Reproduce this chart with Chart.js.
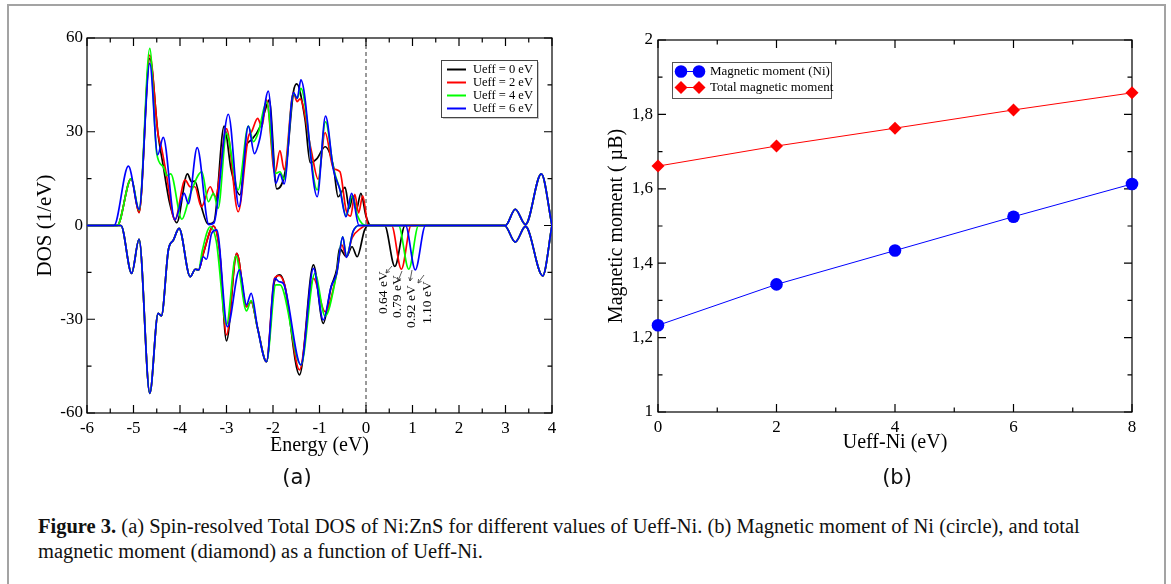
<!DOCTYPE html>
<html lang="en">
<head>
<meta charset="UTF-8">
<title>Figure 3 - Ni:ZnS DOS and magnetic moment</title>
<script src="https://cdn.jsdelivr.net/npm/chart.js"></script>
<style>
  html, body { margin: 0; padding: 0; background: #fff; width: 1171px; height: 584px; overflow: hidden; }
  .frame { position: absolute; left: 7px; top: 4px; width: 1155px; height: 620px; border: 2px solid #a3a3a3; border-bottom: none; }
  canvas { position: absolute; }
  #dos { left: 8px; top: 5px; }
  #mom { left: 592px; top: 5px; }
  .tag { position: absolute; top: 464px; width: 60px; text-align: center; font: 21px 'DejaVu Sans', sans-serif; line-height: 26px; color: #111; }
  .caption { position: absolute; left: 38px; top: 514px; font: 20.5px 'Liberation Serif', serif; line-height: 25px; color: #111; white-space: nowrap; }
</style>
</head>
<body>
<div class="frame"></div>
<canvas id="dos" width="582" height="480"></canvas>
<canvas id="mom" width="571" height="480"></canvas>
<div class="tag" style="left:267px">(a)</div>
<div class="tag" style="left:867px">(b)</div>
<div class="caption"><b>Figure 3.</b> (a) Spin-resolved Total DOS of Ni:ZnS for different values of Ueff-Ni. (b) Magnetic moment of Ni (circle), and total<br>magnetic moment (diamond) as a function of Ueff-Ni.</div>

<script>
// ---- panel (a): spin-resolved DOS, points are [energy (eV), DOS (1/eV)] ----
const ueffLabels = ['Ueff = 0 eV', 'Ueff = 2 eV', 'Ueff = 4 eV', 'Ueff = 6 eV'];
const ueffColors = ['#000000', '#ff0000', '#00ff00', '#0000ff'];
const gapEnergies = [0.64, 0.79, 0.92, 1.10];

// conduction band features, same for every Ueff
const cbUp = [[3.0, 0], [3.21, 5.2], [3.43, 0.3], [3.77, 16.5], [4.0, 0]];
const cbDn = [[2.98, 0], [3.21, -5.3], [3.43, -0.3], [3.80, -16.1], [4.0, 0]];
// deep valence part of spin-down, same for every Ueff
const dnLow = [[-6, 0], [-5.27, 0], [-5.04, -15.3], [-4.88, -4.4], [-4.65, -53.7], [-4.47, -28.1], [-4.40, -28.9],
  [-4.25, -7.8], [-4.14, -4.6], [-4.02, -0.9], [-3.78, -16.4], [-3.67, -14], [-3.60, -14.2]];

const up0 = [[-6, 0], [-5.35, 0], [-5.05, 15], [-4.88, 4.2], [-4.65, 53.5], [-4.47, 29], [-4.36, 19], [-4.22, 7],
  [-4.07, 0.9], [-3.84, 16.5], [-3.75, 14], [-3.68, 14.2], [-3.54, 6], [-3.40, 0.5], [-3.27, 1.2], [-3.05, 31.8],
  [-2.90, 17.8], [-2.71, 9.8], [-2.58, 25.2], [-2.46, 27.4], [-2.28, 31.6], [-2.14, 38.2], [-2.08, 40.2],
  [-1.92, 11.7], [-1.72, 18.8], [-1.56, 42.8], [-1.49, 45.3], [-1.31, 33.8], [-1.20, 20.1], [-1.05, 21.5],
  [-0.88, 25.2], [-0.70, 18.8], [-0.60, 9.2], [-0.45, 12.2], [-0.36, 5.5], [-0.28, 9.5], [-0.21, 5],
  [-0.11, 10.3], [0.0, 3], [0.1, 0], ...cbUp];
const up2 = [[-6, 0], [-5.35, 0], [-5.05, 15], [-4.88, 4.1], [-4.65, 54.5], [-4.47, 29], [-4.40, 25], [-4.30, 17],
  [-4.11, 1.8], [-3.89, 14.6], [-3.78, 12.4], [-3.68, 12.4], [-3.54, 6], [-3.35, 12.4], [-3.24, 9.2], [-3.00, 31],
  [-2.75, 4.4], [-2.53, 28.4], [-2.46, 30], [-2.33, 34.3], [-2.24, 31.6], [-2.14, 40.2], [-1.96, 16.7],
  [-1.85, 24], [-1.76, 17.8], [-1.56, 42.5], [-1.48, 39.6], [-1.42, 40.5], [-1.18, 24.2], [-1.03, 14.8],
  [-0.88, 29.7], [-0.70, 18.3], [-0.56, 17.2], [-0.43, 5], [-0.33, 3], [-0.24, 10], [-0.16, 4], [-0.07, 9.5],
  [0.05, 0], ...cbUp];
const up4 = [[-6, 0], [-5.35, 0], [-5.05, 15], [-4.88, 5], [-4.65, 56.7], [-4.50, 23], [-4.36, 18.8], [-4.28, 16],
  [-4.20, 16.5], [-3.96, 2], [-3.78, 10], [-3.53, 17.2], [-3.39, 7.6], [-3.28, 10.3], [-3.18, 5.5], [-3.00, 29.5],
  [-2.75, 11.4], [-2.53, 31.8], [-2.42, 26.8], [-2.31, 30], [-2.14, 39.6], [-1.94, 16.7], [-1.85, 17.2],
  [-1.76, 14.8], [-1.56, 42.3], [-1.48, 40.7], [-1.40, 43.9], [-1.05, 11.4], [-0.87, 33.2], [-0.70, 18.3],
  [-0.55, 11], [-0.43, 3], [-0.30, 9.5], [-0.18, 3], [-0.08, 0.5], [0.02, 0], ...cbUp];
const up6 = [[-6, 0], [-5.42, 0], [-5.11, 19], [-4.88, 5.2], [-4.65, 51.9], [-4.48, 22.6], [-4.36, 28.2],
  [-4.11, 1.8], [-3.91, 10.3], [-3.82, 7], [-3.63, 24.9], [-3.38, 0.3], [-3.27, 0.8], [-2.96, 35.6], [-2.73, 6],
  [-2.53, 31.8], [-2.40, 23], [-2.28, 28], [-2.10, 43], [-1.94, 13.5], [-1.85, 16.5], [-1.76, 13.3], [-1.56, 42.5],
  [-1.48, 40.7], [-1.40, 46.6], [-1.05, 9.2], [-0.87, 35], [-0.70, 17.8], [-0.56, 11.4], [-0.43, 2.8],
  [-0.31, 10.3], [-0.15, 0], ...cbUp];

const dn0 = [...dnLow, [-3.50, -9], [-3.28, -0.2], [-3.15, -8], [-3.00, -36.9], [-2.78, -8.9], [-2.57, -26],
  [-2.47, -24.4], [-2.33, -33], [-2.14, -43.6], [-1.97, -18], [-1.85, -15.8], [-1.75, -19], [-1.43, -47.8],
  [-1.13, -12.6], [-0.92, -31.3], [-0.75, -19.6], [-0.63, -14], [-0.57, -7.3], [-0.42, -10], [-0.30, -6.8],
  [-0.19, -10], [-0.03, -1.4], [0.05, 0], [0.40, 0], [0.62, -13.1], [0.84, 0], ...cbDn];
const dn2 = [...dnLow, [-3.50, -9], [-3.28, -0.2], [-3.15, -8], [-3.00, -35], [-2.78, -8.9], [-2.57, -26],
  [-2.47, -24.4], [-2.33, -32.9], [-2.14, -43.6], [-1.97, -17], [-1.87, -16], [-1.75, -19], [-1.43, -46.2],
  [-1.13, -16.9], [-0.88, -27.6], [-0.63, -15.3], [-0.52, -6.2], [-0.42, -10], [-0.30, -4], [-0.12, -1],
  [0.02, 0], [0.55, 0], [0.76, -14], [0.97, 0], ...cbDn];
const dn4 = [...dnLow, [-3.52, -8], [-3.35, -0.4], [-3.22, -5], [-3.00, -31.8], [-2.80, -9.8], [-2.57, -27.3],
  [-2.47, -24], [-2.33, -33], [-2.14, -43.6], [-1.94, -19], [-1.85, -19], [-1.40, -44.6], [-1.10, -15.3],
  [-0.88, -29], [-0.63, -15.3], [-0.50, -3.6], [-0.42, -10], [-0.28, -2], [-0.15, 0], [0.70, 0], [0.92, -14],
  [1.13, 0], ...cbDn];
const dn6 = [...dnLow, [-3.50, -10], [-3.43, -10.8], [-3.32, -2.5], [-3.21, -1.4], [-2.98, -32.4], [-2.72, -14.2],
  [-2.57, -25.4], [-2.47, -21.7], [-2.33, -32.9], [-2.14, -43.6], [-1.96, -16.9], [-1.87, -18], [-1.78, -18.5],
  [-1.40, -44.6], [-1.13, -13.7], [-0.92, -30.2], [-0.75, -19.6], [-0.63, -15.3], [-0.50, -3.6], [-0.42, -10.2],
  [-0.28, -2], [-0.15, 0], [0.85, 0], [1.06, -14.2], [1.28, 0], ...cbDn];

// ---- panel (b): magnetic moments ----
const ueffNi = [0, 2, 4, 6, 8];
const niMoment = [1.233, 1.343, 1.434, 1.525, 1.613];
const totalMoment = [1.661, 1.715, 1.763, 1.812, 1.858];

const SERIF = "'Liberation Serif', 'Times New Roman', serif";
Chart.defaults.font.family = SERIF;
Chart.defaults.color = '#000';

const xy = pts => pts.map(([x, y]) => ({ x, y }));

// frame with inward ticks on all four sides (xmgrace look)
const axisBox = {
  id: 'axisBox',
  beforeDatasetsDraw(chart, args, o) {
    const { ctx, chartArea: a, scales: { x, y } } = chart;
    ctx.save();
    ctx.strokeStyle = '#000';
    ctx.lineWidth = 1.2;
    ctx.beginPath();
    const marks = (s, step, len) => {
      const n = Math.round((s.max - s.min) / step);
      for (let i = 0; i <= n; i++) {
        const p = s.getPixelForValue(s.min + i * step);
        if (s.isHorizontal()) {
          ctx.moveTo(p, a.bottom); ctx.lineTo(p, a.bottom - len);
          ctx.moveTo(p, a.top); ctx.lineTo(p, a.top + len);
        } else {
          ctx.moveTo(a.left, p); ctx.lineTo(a.left + len, p);
          ctx.moveTo(a.right, p); ctx.lineTo(a.right - len, p);
        }
      }
    };
    marks(x, o.xMajor, 8); marks(x, o.xMinor, 4.5);
    marks(y, o.yMajor, 8); marks(y, o.yMinor, 4.5);
    ctx.stroke();
    ctx.strokeRect(a.left, a.top, a.right - a.left, a.bottom - a.top);
    if (o.fermi) {
      const px = x.getPixelForValue(0);
      ctx.lineWidth = 0.8;
      ctx.setLineDash([4, 3]);
      ctx.beginPath(); ctx.moveTo(px, a.top); ctx.lineTo(px, a.bottom); ctx.stroke();
    }
    ctx.restore();
  }
};

const dosLegend = {
  id: 'dosLegend',
  afterDraw(chart) {
    const { ctx, chartArea: a } = chart;
    const left = a.right - 111, top = a.top + 22, w = 96, h = 57;
    ctx.save();
    ctx.fillStyle = '#c8c8c8'; ctx.fillRect(left + 2, top + 2, w, h);
    ctx.fillStyle = '#fff'; ctx.fillRect(left, top, w, h);
    ctx.strokeStyle = '#444'; ctx.lineWidth = 1; ctx.strokeRect(left + 0.5, top + 0.5, w, h);
    ctx.font = '12.5px ' + SERIF;
    ctx.textBaseline = 'middle';
    ueffLabels.forEach((t, i) => {
      const yy = top + 9.5 + i * 13;
      ctx.strokeStyle = ueffColors[i]; ctx.lineWidth = 2;
      ctx.beginPath(); ctx.moveTo(left + 6, yy); ctx.lineTo(left + 25, yy); ctx.stroke();
      ctx.fillStyle = '#000'; ctx.fillText(t, left + 32, yy);
    });
    ctx.restore();
  }
};

// gap labels under the spin-down peaks
const gapNotes = {
  id: 'gapNotes',
  afterDatasetsDraw(chart) {
    const { ctx, chartArea: a } = chart;
    const textX = [296, 310, 324, 340], textY = [276, 280, 290, 286];
    const arrows = [[305, 228, 299, 235], [315, 233, 311, 243], [325, 232, 323, 243], [337, 237, 331, 245]];
    ctx.save();
    ctx.fillStyle = '#000'; ctx.strokeStyle = '#333'; ctx.lineWidth = 0.8;
    ctx.font = '13.5px ' + SERIF;
    ctx.textBaseline = 'middle'; ctx.textAlign = 'left';
    gapEnergies.forEach((g, i) => {
      ctx.save();
      ctx.translate(a.left + textX[i], a.top + textY[i]);
      ctx.rotate(-Math.PI / 2);
      ctx.fillText(g.toFixed(2) + ' eV', 0, 0);
      ctx.restore();
      const [x1, y1, x2, y2] = arrows[i].map((v, k) => v + (k % 2 ? a.top : a.left));
      const ang = Math.atan2(y2 - y1, x2 - x1);
      ctx.beginPath();
      ctx.moveTo(x1, y1); ctx.lineTo(x2, y2);
      ctx.moveTo(x2 - 4 * Math.cos(ang - 0.5), y2 - 4 * Math.sin(ang - 0.5)); ctx.lineTo(x2, y2);
      ctx.lineTo(x2 - 4 * Math.cos(ang + 0.5), y2 - 4 * Math.sin(ang + 0.5));
      ctx.stroke();
    });
    ctx.restore();
  }
};

const momLegend = {
  id: 'momLegend',
  afterDraw(chart) {
    const { ctx, chartArea: a } = chart;
    const left = a.left + 14, top = a.top + 22, w = 159, h = 36;
    const rows = [
      { text: 'Magnetic moment (Ni)', color: '#0000ff', style: 'circle', r: 6.3 },
      { text: 'Total magnetic moment', color: '#ff0000', style: 'rectRot', r: 6.5 }
    ];
    ctx.save();
    ctx.fillStyle = '#fff'; ctx.fillRect(left, top, w, h);
    ctx.strokeStyle = '#555'; ctx.lineWidth = 1; ctx.strokeRect(left + 0.5, top + 0.5, w, h);
    ctx.font = '13px ' + SERIF;
    ctx.textBaseline = 'middle';
    rows.forEach((r, i) => {
      const yy = top + 9.5 + i * 16;
      ctx.strokeStyle = r.color; ctx.lineWidth = 1;
      ctx.beginPath(); ctx.moveTo(left + 9, yy); ctx.lineTo(left + 27, yy); ctx.stroke();
      ctx.fillStyle = r.color;
      Chart.helpers.drawPoint(ctx, { pointStyle: r.style, radius: r.r, borderWidth: 0 }, left + 9, yy);
      Chart.helpers.drawPoint(ctx, { pointStyle: r.style, radius: r.r, borderWidth: 0 }, left + 27, yy);
      ctx.fillStyle = '#000'; ctx.fillText(r.text, left + 38, yy);
    });
    ctx.restore();
  }
};

const ups = [up0, up2, up4, up6], dns = [dn0, dn2, dn4, dn6];
const dosSets = [];
[3, 2, 1, 0].forEach(i => {
  dosSets.push({ label: ueffLabels[i], data: xy(ups[i]), borderColor: ueffColors[i] });
  dosSets.push({ label: ueffLabels[i] + ' dn', data: xy(dns[i]), borderColor: ueffColors[i] });
});

const tickFont = { family: SERIF, size: 17 };

new Chart(document.getElementById('dos'), {
  type: 'line',
  data: { datasets: dosSets },
  options: {
    responsive: false,
    animation: false,
    layout: { padding: { left: 0, top: 33, right: 38, bottom: 0 } },
    elements: { point: { radius: 0 }, line: { borderWidth: 1.7, cubicInterpolationMode: 'monotone', fill: false } },
    plugins: {
      legend: { display: false }, tooltip: { enabled: false },
      axisBox: { xMajor: 1, xMinor: 0.5, yMajor: 30, yMinor: 15, fermi: true }
    },
    scales: {
      x: {
        type: 'linear', min: -6, max: 4,
        ticks: { stepSize: 1, padding: 5, autoSkip: false, maxRotation: 0, font: tickFont, color: '#000' },
        grid: { display: false, drawTicks: false }, border: { display: false },
        title: { display: true, text: 'Energy (eV)', color: '#000', font: { family: SERIF, size: 20 }, padding: { top: 0, bottom: 27 } },
        afterFit: s => { s.height = 72; }
      },
      y: {
        min: -60, max: 60,
        ticks: { stepSize: 30, padding: 4, font: tickFont, color: '#000' },
        grid: { display: false, drawTicks: false }, border: { display: false },
        title: { display: true, text: 'DOS (1/eV)', color: '#000', font: { family: SERIF, size: 21 }, padding: { top: 25, bottom: 0 } },
        afterFit: s => { s.width = 79; }
      }
    }
  },
  plugins: [axisBox, gapNotes, dosLegend]
});

new Chart(document.getElementById('mom'), {
  type: 'line',
  data: {
    datasets: [
      { label: 'Magnetic moment (Ni)', data: ueffNi.map((u, i) => ({ x: u, y: niMoment[i] })),
        borderColor: '#0000ff', backgroundColor: '#0000ff', borderWidth: 1,
        pointStyle: 'circle', pointRadius: 6.3, pointBorderWidth: 0, clip: false },
      { label: 'Total magnetic moment', data: ueffNi.map((u, i) => ({ x: u, y: totalMoment[i] })),
        borderColor: '#ff0000', backgroundColor: '#ff0000', borderWidth: 1,
        pointStyle: 'rectRot', pointRadius: 6.5, pointBorderWidth: 0, clip: false }
    ]
  },
  options: {
    responsive: false,
    animation: false,
    layout: { padding: { left: 0, top: 35, right: 31, bottom: 0 } },
    plugins: {
      legend: { display: false }, tooltip: { enabled: false },
      axisBox: { xMajor: 2, xMinor: 1, yMajor: 0.2, yMinor: 0.1 }
    },
    scales: {
      x: {
        type: 'linear', min: 0, max: 8,
        ticks: { stepSize: 2, padding: 5, autoSkip: false, maxRotation: 0, font: tickFont, color: '#000' },
        grid: { display: false, drawTicks: false }, border: { display: false },
        title: { display: true, text: 'Ueff-Ni (eV)', color: '#000', font: { family: SERIF, size: 20 }, padding: { top: 0, bottom: 30 } },
        afterFit: s => { s.height = 73; }
      },
      y: {
        min: 1, max: 2,
        ticks: { stepSize: 0.2, padding: 5, font: tickFont, color: '#000',
          callback: v => String(Math.round(v * 10) / 10).replace('.', ',') },
        grid: { display: false, drawTicks: false }, border: { display: false },
        title: { display: true, text: 'Magnetic moment ( µB)', color: '#000', font: { family: SERIF, size: 20 }, padding: { top: 13, bottom: 0 } },
        afterFit: s => { s.width = 66; }
      }
    }
  },
  plugins: [axisBox, momLegend]
});
</script>
</body>
</html>
